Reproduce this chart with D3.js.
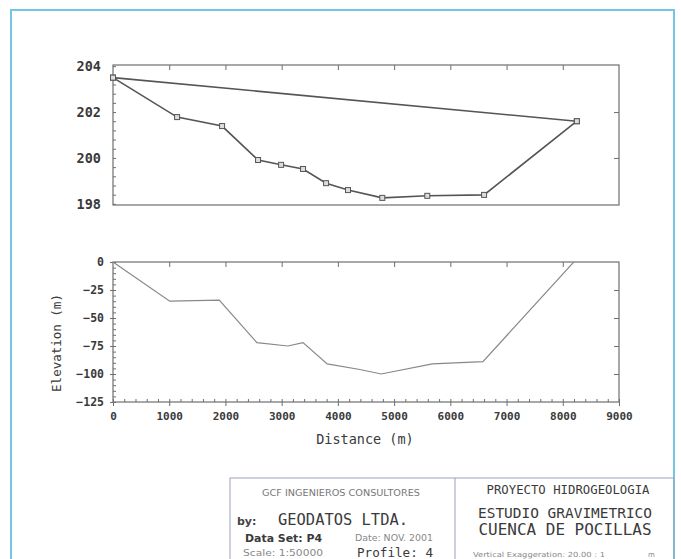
<!DOCTYPE html>
<html><head><meta charset="utf-8">
<script src="https://cdn.jsdelivr.net/npm/d3@7"></script>
<style>
html,body{margin:0;padding:0;background:#fff;}
svg{display:block;}
</style></head>
<body>
<svg id="chart" width="681" height="559"></svg>
<script>
// ---- data ----
const distTicks = [0,1000,2000,3000,4000,5000,6000,7000,8000,9000];
const elevTicks = [198,200,202,204];
const depthTicks = [0,-25,-50,-75,-100,-125];
const surfaceDist = [0, 8250];
const surfaceElev = [203.5, 201.6];
const profileDist = [0,1140,1940,2580,2990,3380,3790,4180,4790,5590,6600,8250];
const profileElev = [203.5,201.78,201.39,199.91,199.7,199.52,198.9,198.6,198.26,198.35,198.39,201.6];
const basementDist = [0,1010,1890,2560,3110,3380,3810,4390,4770,5680,6580,8250];
const basementDepth = [0,-35,-34,-72,-75,-72,-91,-96,-100,-91,-89,3];
const leftBoxLines = ["GCF INGENIEROS CONSULTORES","by:","GEODATOS LTDA.","Data Set: P4","Date: NOV. 2001","Scale: 1:50000","Profile: 4"];
const rightBoxLines = ["PROYECTO HIDROGEOLOGIA","ESTUDIO GRAVIMETRICO","CUENCA DE POCILLAS","Vertical Exaggeration: 20.00 : 1","m"];

const svg = d3.select("#chart");
const mono = "'DejaVu Sans Mono', monospace";
const axisCol = "#6f6f6f";
const textCol = "#3a3a3a";

// outer frame
svg.append("rect").attr("x",11).attr("y",10).attr("width",663).attr("height",560)
  .attr("fill","#fff").attr("stroke","#74c7e2").attr("stroke-width",2);

const x = d3.scaleLinear().domain([0,9000]).range([113,619]);

// ===== top chart =====
const yT = d3.scaleLinear().domain([197.95,204.05]).range([205,65]);
const gT = svg.append("g");
gT.append("rect").attr("x",113).attr("y",65).attr("width",506).attr("height",140)
  .attr("fill","none").attr("stroke",axisCol).attr("stroke-width",1.2);
// top ticks
gT.append("g").attr("transform","translate(0,65)")
  .call(d3.axisBottom(x).tickValues(distTicks.slice(1,-1)).tickSize(5).tickFormat(""))
  .call(g=>{g.select(".domain").remove(); g.selectAll("line").attr("stroke",axisCol);});
// right ticks
gT.append("g").attr("transform","translate(619,0)")
  .call(d3.axisLeft(yT).tickValues([200,202]).tickSize(5).tickFormat(""))
  .call(g=>{g.select(".domain").remove(); g.selectAll("line").attr("stroke",axisCol);});
// left minor ticks
gT.append("g").attr("transform","translate(113,0)")
  .call(d3.axisRight(yT).tickValues(d3.range(198,204.01,0.4)).tickSize(3).tickFormat(""))
  .call(g=>{g.select(".domain").remove(); g.selectAll("line").attr("stroke",axisCol);});
// left labels
gT.append("g").attr("transform","translate(113,0)")
  .call(d3.axisLeft(yT).tickValues(elevTicks).tickSize(0).tickPadding(12).tickFormat(d3.format("d")))
  .call(g=>{g.select(".domain").remove();
    g.selectAll("text").attr("font-family",mono).attr("font-weight","bold").attr("font-size",13.5).attr("fill",textCol);});

const lineT = d3.line().x(d=>x(d[0])).y(d=>yT(d[1]));
const surf = surfaceDist.map((d,i)=>[d,surfaceElev[i]]);
const prof = profileDist.map((d,i)=>[d,profileElev[i]]);
gT.append("path").attr("d",lineT(surf)).attr("fill","none").attr("stroke","#555").attr("stroke-width",1.6);
gT.append("path").attr("d",lineT(prof)).attr("fill","none").attr("stroke","#555").attr("stroke-width",1.6);
gT.selectAll("rect.mk").data(prof.concat(surf)).join("rect").attr("class","mk")
  .attr("x",d=>x(d[0])-2.5).attr("y",d=>yT(d[1])-2.5).attr("width",5).attr("height",5)
  .attr("fill","#ddd").attr("stroke","#555").attr("stroke-width",1);

// ===== bottom chart =====
const yB = d3.scaleLinear().domain([-125,0]).range([402,262]);
const gB = svg.append("g");
gB.append("rect").attr("x",113).attr("y",262).attr("width",506).attr("height",140)
  .attr("fill","none").attr("stroke",axisCol).attr("stroke-width",1.2);
gB.append("g").attr("transform","translate(0,262)")
  .call(d3.axisBottom(x).tickValues(distTicks.slice(1,-1)).tickSize(5).tickFormat(""))
  .call(g=>{g.select(".domain").remove(); g.selectAll("line").attr("stroke",axisCol);});
gB.append("g").attr("transform","translate(619,0)")
  .call(d3.axisLeft(yB).tickValues([-25,-50,-75,-100]).tickSize(5).tickFormat(""))
  .call(g=>{g.select(".domain").remove(); g.selectAll("line").attr("stroke",axisCol);});
// bottom minor ticks
gB.append("g").attr("transform","translate(0,402)")
  .call(d3.axisTop(x).tickValues(d3.range(0,9001,200)).tickSize(3).tickFormat(""))
  .call(g=>{g.select(".domain").remove(); g.selectAll("line").attr("stroke",axisCol);});
gB.append("g").attr("transform","translate(0,402)")
  .call(d3.axisBottom(x).tickValues(distTicks).tickSize(4).tickPadding(6).tickFormat(d3.format("d")))
  .call(g=>{g.select(".domain").remove(); g.selectAll("line").attr("stroke",axisCol);
    g.selectAll("text").attr("font-family",mono).attr("font-weight","bold").attr("font-size",11).attr("fill",textCol);});
// left minor ticks
gB.append("g").attr("transform","translate(113,0)")
  .call(d3.axisRight(yB).tickValues(d3.range(-125,0.1,5)).tickSize(3).tickFormat(""))
  .call(g=>{g.select(".domain").remove(); g.selectAll("line").attr("stroke",axisCol);});
gB.append("g").attr("transform","translate(113,0)")
  .call(d3.axisLeft(yB).tickValues(depthTicks).tickSize(3).tickPadding(6).tickFormat(d3.format("d")))
  .call(g=>{g.select(".domain").remove(); g.selectAll("line").attr("stroke",axisCol);
    g.selectAll("text").attr("font-family",mono).attr("font-weight","bold").attr("font-size",11.5).attr("fill",textCol);});

svg.append("clipPath").attr("id","clipB").append("rect")
  .attr("x",113).attr("y",262).attr("width",506).attr("height",140);
const lineB = d3.line().x(d=>x(d[0])).y(d=>yB(d[1]));
gB.append("path").attr("clip-path","url(#clipB)")
  .attr("d",lineB(basementDist.map((d,i)=>[d,basementDepth[i]])))
  .attr("fill","none").attr("stroke","#888").attr("stroke-width",1.2);

svg.append("text").attr("x",365).attr("y",444).attr("text-anchor","middle")
  .attr("font-family",mono).attr("font-size",13.5).attr("fill",textCol).text("Distance (m)");
svg.append("text").attr("transform","translate(61,343) rotate(-90)").attr("text-anchor","middle")
  .attr("font-family",mono).attr("font-size",12.5).attr("fill",textCol).text("Elevation (m)");

// ===== title block =====
const tb = svg.append("g");
tb.append("rect").attr("x",230).attr("y",478).attr("width",444).attr("height",100)
  .attr("fill","none").attr("stroke","#9aa3b8").attr("stroke-width",1);
tb.append("line").attr("x1",455).attr("x2",455).attr("y1",478).attr("y2",559)
  .attr("stroke","#9aa3b8").attr("stroke-width",1);
const sans = "'DejaVu Sans', sans-serif";
function t(txt,xx,yy,size,opts={}){
  return tb.append("text").attr("x",xx).attr("y",yy).attr("font-size",size)
    .attr("font-family",opts.family||mono).attr("font-weight",opts.bold?"bold":"normal")
    .attr("text-anchor",opts.anchor||"start").attr("fill",opts.fill||textCol)
    .attr("textLength",opts.len||null).attr("lengthAdjust","spacingAndGlyphs").text(txt);
}
t(leftBoxLines[0],341,496,8.5,{family:sans,anchor:"middle",fill:"#777",len:158});
t(leftBoxLines[1],237,525,11,{bold:true,fill:"#444",family:sans});
t(leftBoxLines[2],278,525,16,{len:130});
t(leftBoxLines[3],245,542,11,{bold:true,family:sans,len:77});
t(leftBoxLines[4],355,541,8.5,{family:sans,fill:"#888",len:78});
t(leftBoxLines[5],243,556,8.5,{family:sans,fill:"#888",len:80});
t(leftBoxLines[6],357,557,12.5,{len:76});
t(rightBoxLines[0],568,494,12.5,{anchor:"middle",len:163});
t(rightBoxLines[1],565,518,14,{anchor:"middle",len:174});
t(rightBoxLines[2],565,535,15.5,{anchor:"middle",len:173});
t(rightBoxLines[3],473,557,7,{family:sans,fill:"#888",len:132});
t(rightBoxLines[4],648,557,7,{family:sans,fill:"#888"});
</script>
</body></html>
